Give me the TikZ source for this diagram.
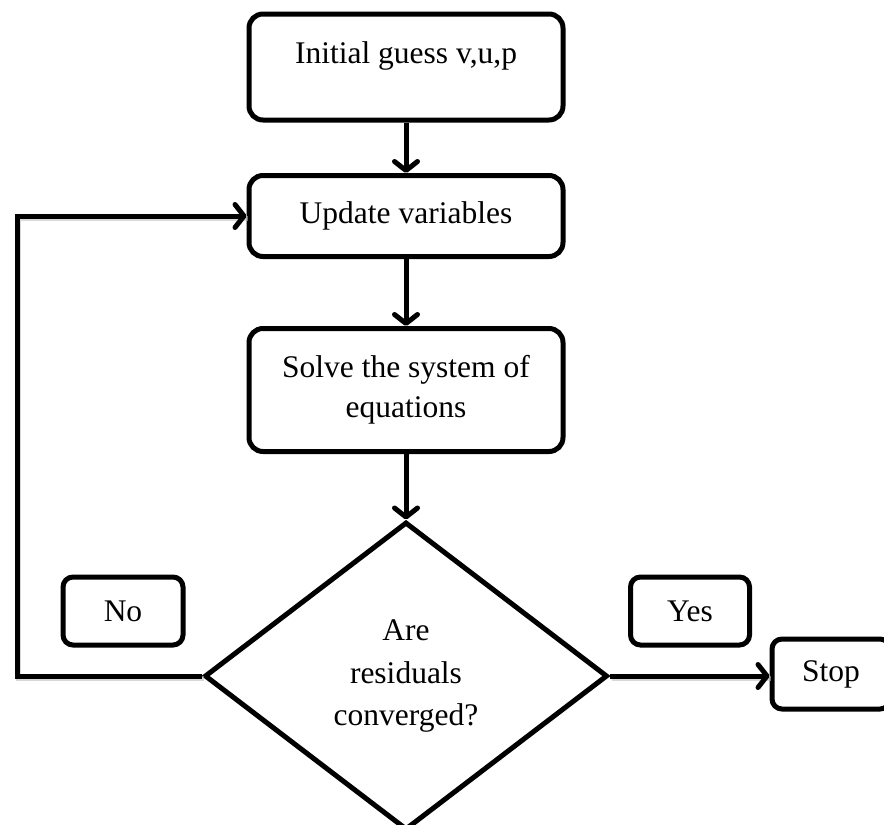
\documentclass[tikz,border=0pt]{standalone}
\usepackage{fontspec}
\setmainfont{Liberation Serif}
\usetikzlibrary{arrows.meta,shapes.geometric}

\begin{document}
\begin{tikzpicture}[x=1pt,y=-1pt,
  every node/.style={font=\fontsize{31.5}{40}\selectfont},
  stepbox/.style={draw,line width=5pt,rounded corners=14pt,align=center,
    inner sep=0pt},
  tagbox/.style={draw,line width=5pt,rounded corners=10pt,inner sep=0pt},
  decision/.style={draw,diamond,line width=5pt,inner sep=0pt,align=center,
    font=\fontsize{31.5}{42.5}\selectfont},
  flow/.style={line width=5pt,
    -{Straight Barb[length=9pt,width=23pt,line width=5pt,round]}},
  haze/.style={line width=5pt,draw=black!25,opacity=0.6,
    transform canvas={shift={(1.5pt,-2.5pt)}}},
]
% page frame; the diamond's lower tip and the Stop box run past it
\clip (0,0) rectangle (884,825);
\fill[white] (0,0) rectangle (884,825);

% main column
\node[stepbox,minimum width=314,minimum height=106,text height=21,text depth=29]
  (init) at (406,67) {Initial guess v,u,p};
\node[stepbox,minimum width=314,minimum height=81] (upd) at (406,216) {Update variables};
\node[stepbox,minimum width=314,minimum height=123] (solve) at (406,390)
  {Solve the system of\\equations};
\node[decision,minimum width=403,minimum height=308] (dec) at (406,676)
  {Are\\residuals\\converged?};

% branch labels and end box
\node[tagbox,minimum width=120,minimum height=68] (no) at (123,611) {No};
\node[tagbox,minimum width=119,minimum height=68] (yes) at (690,611) {Yes};
\node[tagbox,minimum width=118,minimum height=70] (stop) at (831,674) {Stop};

% soft shadow under the connectors
\coordinate (back) at (17,676);
\begin{scope}[on background layer/.try]
\draw[haze] (dec.east) -- (dec.east -| stop.west);
\draw[haze,line join=miter] (dec.west) -- (back) |- (upd.west);
\end{scope}

% connectors
\draw[flow] (init.south) -- (upd.north);
\draw[flow] (upd.south) -- (solve.north);
\draw[flow] (solve.south) -- (dec.north);
\draw[flow] (dec.east) -- (dec.east -| stop.west);
\draw[flow,line join=miter] (dec.west) -- (back) |- (upd.west);
\end{tikzpicture}
\end{document}
